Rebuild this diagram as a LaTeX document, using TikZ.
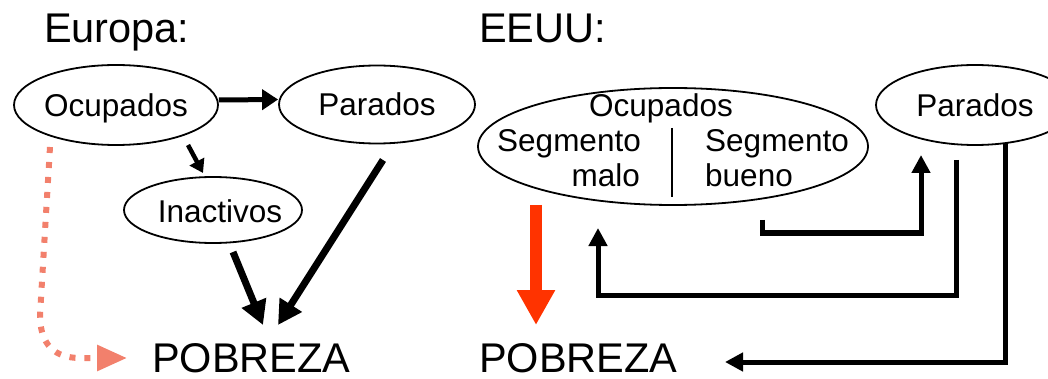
\documentclass[tikz,border=0pt]{standalone}
\usepackage{fontspec}
\setmainfont{Liberation Sans}
\usetikzlibrary{shapes.geometric,arrows.meta,calc}
\definecolor{redarrow}{RGB}{255,51,0}
\definecolor{dotred}{RGB}{242,128,108}
\begin{document}
\begin{tikzpicture}[x=1pt,y=-1pt,
  ell/.style={draw,ellipse,line width=1.8pt,inner sep=0pt},
  lbl/.style={font=\fontsize{31.5}{36}\selectfont,inner sep=0pt},
  capt/.style={font=\fontsize{31.5}{36}\selectfont,inner sep=0pt,text height=22.5pt,text depth=0pt},
  big/.style={font=\fontsize{41.5}{48}\selectfont,inner sep=0pt},
  arrA/.style={line width=5pt,-{Triangle[length=16pt,width=20pt]}},
  arrS/.style={line width=4.5pt,-{Triangle[length=13pt,width=16pt]}},
  arrB/.style={line width=7pt,-{Triangle[length=24pt,width=25pt]}},
  arrR/.style={line width=5pt,-{Triangle[length=18pt,width=18pt]}},
  arrRed/.style={redarrow,line width=12pt,-{Triangle[length=35pt,width=36pt]}},
  arrDot/.style={dotred,line width=6pt,dash pattern=on 6pt off 9pt,-{Triangle[length=30pt,width=25pt]}}
]
\useasboundingbox (0,0) rectangle (1048,379);

% titles
\node[big,anchor=base west] (tEu) at (44,43) {Europa:};
\node[big,anchor=base west] (tUS) at (479,43) {EEUU:};

% ---------- Europa ----------
\node[ell,capt,minimum width=204pt,minimum height=80pt] (ocL) at (116,105) {Ocupados};
\node[ell,capt,minimum width=196pt,minimum height=78pt] (parL) at (377,104.5) {Parados};
\node[ell,minimum width=178pt,minimum height=66pt] (inL) at (213,210) {};
\node[capt] (inLt) at (220,211.5) {Inactivos};
\node[big,anchor=base west] (pobL) at (152,372) {POBREZA};

\coordinate (s1) at (188,145);
\coordinate (e1) at (203,173);
\coordinate (s2) at (233,252);
\coordinate (e2) at (263,325);
\coordinate (s3) at (383,160);
\coordinate (e3) at (278,325);
\coordinate (d0) at (50,147);
\coordinate (d1) at (40,315);
\coordinate (d2) at (80,358);
\coordinate (d3) at (127,358);

\draw[arrA] ([yshift=5pt]ocL.east) -- ([yshift=5pt]parL.west);
\draw[arrS] (s1) -- (e1);
\draw[arrB] (s2) -- (e2);
\draw[arrB] (s3) -- (e3);
\draw[arrDot] (d0) -- (d1) .. controls (40,345) and (55,358) .. (d2) -- (d3);

% ---------- EEUU ----------
\node[ell,minimum width=390pt,minimum height=117pt] (ocR) at (673,146.5) {};
\node[lbl,anchor=base] (ocRt) at (661,117) {Ocupados};
\node[lbl,anchor=base east] (sm1) at (641,152) {Segmento};
\node[lbl,anchor=base east] (sm2) at (640,187) {malo};
\node[lbl,anchor=base west] (sb1) at (705,152) {Segmento};
\node[lbl,anchor=base west] (sb2) at (705,187) {bueno};
\draw[line width=1.8pt] (672,128) -- (672,197);

\node[ell,capt,minimum width=198pt,minimum height=80pt] (parR) at (975,105) {Parados};
\node[big,anchor=base west] (pobR) at (479,372) {POBREZA};

\coordinate (r0s) at (536,205);
\coordinate (r0e) at (536,325);
\coordinate (a1s) at (762,220);
\coordinate (a1c) at (762,233);
\coordinate (a1e) at (921,155);
\coordinate (a2s) at (956,160);
\coordinate (a2c) at (956,295);
\coordinate (a2e) at (598,228);
\coordinate (a3s) at (1005,143);
\coordinate (a3e) at (725,362);

\draw[arrRed] (r0s) -- (r0e);
\draw[arrR] (a1s) -- (a1c) -| (a1e);
\draw[arrR] (a2s) -- (a2c) -| (a2e);
\draw[arrR] (a3s) |- (a3e);
\end{tikzpicture}
\end{document}
